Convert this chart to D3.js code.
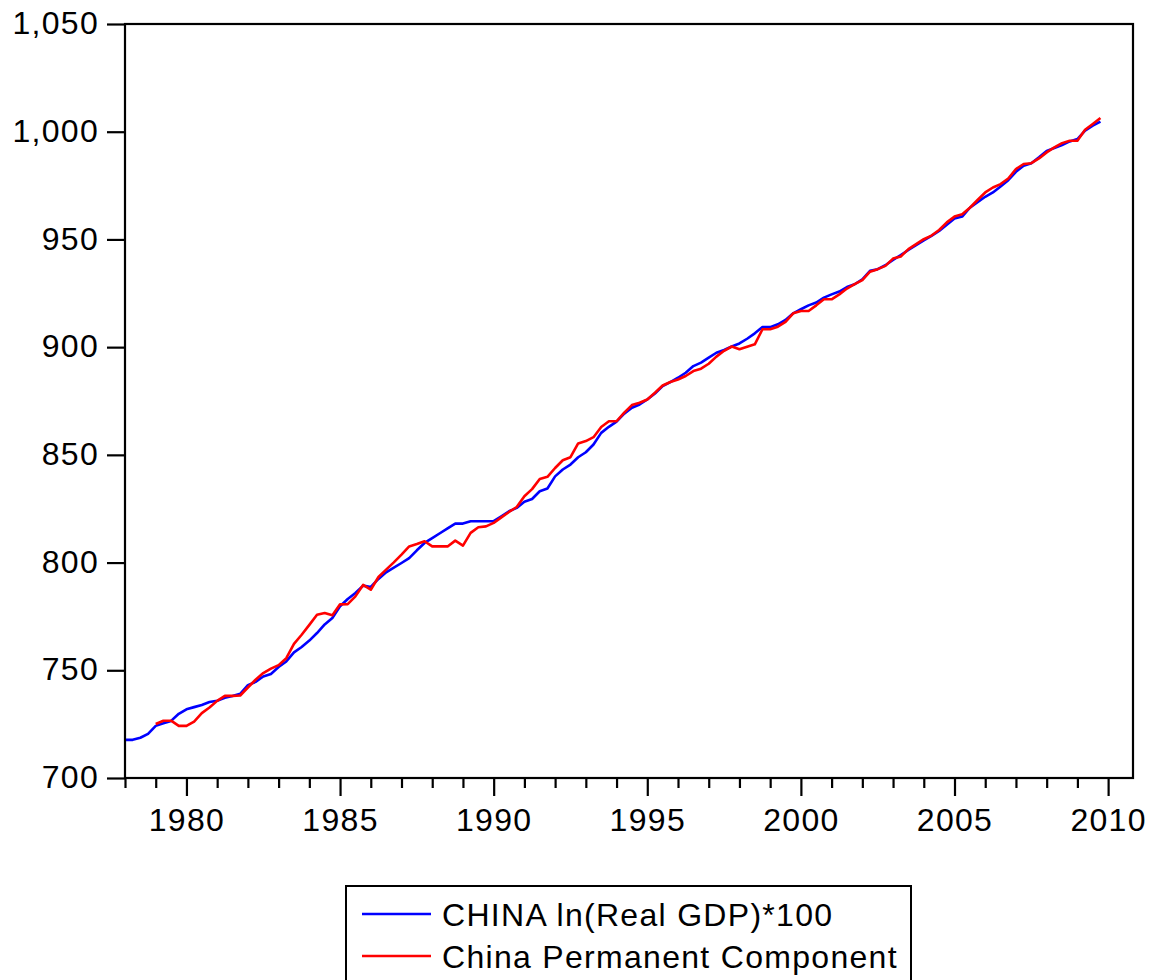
<!DOCTYPE html>
<html>
<head>
<meta charset="utf-8">
<script src="https://cdn.jsdelivr.net/npm/d3@7"></script>
<style>
  html, body { margin: 0; padding: 0; background: #fff; }
  svg { display: block; }
  text { font-family: "Liberation Sans", Arial, sans-serif; fill: #000; }
</style>
</head>
<body>
<svg id="chart" width="1151" height="980"></svg>
<script>
// ---- data (quarterly, 1978Q1 .. 2009Q4) ----
const startYear = 1978;
const periodsPerYear = 4;

const seriesNames = ["CHINA ln(Real GDP)*100", "China Permanent Component"];

const gdpValues = [
  717.7, 717.7, 718.7, 720.5, 724.2, 725.4, 726.5, 729.8,
  731.9, 732.9, 733.9, 735.3, 735.9, 737.2, 738.1, 739.1,
  743.1, 744.6, 747.1, 748.3, 751.5, 754.1, 758.3, 760.8,
  763.8, 767.3, 771.3, 774.3, 779.7, 783.1, 785.9, 789.3,
  788.7, 792.4, 795.5, 797.6, 799.8, 802.1, 805.7, 809.1,
  811.3, 813.6, 815.9, 818.1, 818.1, 819.2, 819.2, 819.2,
  819.2, 821.5, 823.8, 825.4, 828.2, 829.5, 833.1, 834.4,
  840.0, 843.2, 845.5, 848.9, 851.2, 854.8, 860.2, 863.0,
  865.4, 869.1, 871.9, 873.4, 875.7, 878.5, 881.9, 883.8,
  885.8, 888.1, 891.2, 892.8, 895.1, 897.4, 898.7, 900.3,
  901.7, 903.9, 906.4, 909.3, 909.3, 910.6, 912.6, 915.7,
  917.6, 919.4, 920.7, 923.0, 924.5, 925.8, 927.9, 929.2,
  931.5, 935.4, 936.2, 938.0, 940.5, 942.7, 945.1, 947.3,
  949.5, 951.6, 953.9, 956.8, 959.7, 960.6, 964.7, 967.3,
  969.8, 971.8, 974.6, 977.5, 981.4, 984.2, 985.4, 988.1,
  991.1, 992.4, 993.8, 995.5, 996.6, 1000.5, 1002.8, 1004.7
];

const permValues = [
  null, null, null, null, 725.1, 726.6, 726.6, 724.2,
  724.2, 726.2, 730.1, 732.7, 735.8, 738.1, 738.1, 738.3,
  742.0, 745.6, 748.7, 750.8, 752.4, 755.6, 762.3, 766.5,
  771.1, 775.8, 776.6, 775.5, 780.6, 780.7, 784.3, 789.6,
  787.4, 793.3, 796.7, 800.1, 803.7, 807.5, 808.6, 809.9,
  807.5, 807.5, 807.5, 810.2, 807.9, 813.8, 816.4, 816.8,
  818.4, 821.0, 823.5, 825.8, 830.8, 834.1, 838.8, 839.8,
  843.9, 847.5, 848.9, 855.3, 856.4, 858.2, 862.9, 865.6,
  865.6, 869.6, 873.1, 874.2, 875.7, 878.8, 882.2, 883.8,
  885.0, 886.6, 888.9, 890.0, 892.3, 895.6, 898.3, 900.3,
  899.0, 900.2, 901.3, 908.3, 908.3, 909.5, 911.7, 915.7,
  916.8, 916.8, 919.4, 922.2, 922.2, 924.5, 927.2, 929.2,
  931.1, 935.0, 936.2, 937.7, 941.1, 942.1, 945.5, 947.8,
  950.1, 951.8, 954.4, 957.9, 960.6, 961.7, 964.7, 968.3,
  971.8, 974.1, 975.7, 978.3, 982.7, 985.0, 985.4, 987.6,
  990.4, 992.7, 994.7, 995.8, 995.8, 1000.9, 1003.6, 1006.4
];

const xMajorTicks = [1980, 1985, 1990, 1995, 2000, 2005, 2010];
const xMinorTicks = [1978, 1979, 1981, 1982, 1983, 1984, 1986, 1987, 1988, 1989,
  1991, 1992, 1993, 1994, 1996, 1997, 1998, 1999, 2001, 2002, 2003, 2004,
  2006, 2007, 2008, 2009];
const yTicks = [700, 750, 800, 850, 900, 950, 1000, 1050];

const colors = ["#0000ff", "#ff0000"];

// ---- layout ----
const svg = d3.select("#chart");
const plot = { left: 125, right: 1133, top: 24, bottom: 778 };
const fontSize = 32;
const letterSpacing = "1.3px";

const x = d3.scaleLinear().domain([1978, 2010.81]).range([plot.left, plot.right]);
const y = d3.scaleLinear().domain([700, 1050]).range([plot.bottom, plot.top]);

const toPoints = vals => vals.map((v, i) => ({ t: startYear + i / periodsPerYear, v }));
const series = [toPoints(gdpValues), toPoints(permValues)];

// lines
const line = d3.line()
  .defined(d => d.v != null)
  .x(d => x(d.t))
  .y(d => y(d.v));

series.forEach((s, i) => {
  svg.append("path")
    .datum(s)
    .attr("fill", "none")
    .attr("stroke", colors[i])
    .attr("stroke-width", 2.6)
    .attr("stroke-linejoin", "round")
    .attr("d", line);
});

// frame
svg.append("rect")
  .attr("x", plot.left).attr("y", plot.top)
  .attr("width", plot.right - plot.left).attr("height", plot.bottom - plot.top)
  .attr("fill", "none").attr("stroke", "#000").attr("stroke-width", 2.2);

// y axis
const yAxis = d3.axisLeft(y)
  .tickValues(yTicks)
  .tickSize(18)
  .tickPadding(8)
  .tickFormat(d3.format(","));
const gy = svg.append("g").attr("transform", `translate(${plot.left},0)`).call(yAxis);
gy.select(".domain").remove();
gy.selectAll(".tick line").attr("stroke", "#000").attr("stroke-width", 2.2);
gy.selectAll(".tick text")
  .attr("font-size", fontSize)
  .attr("font-family", "Liberation Sans, Arial, sans-serif")
  .attr("letter-spacing", letterSpacing)
  .attr("dy", "0.3em");

// x axis: minor ticks
const gxMinor = svg.append("g").attr("transform", `translate(0,${plot.bottom})`)
  .call(d3.axisBottom(x).tickValues(xMinorTicks).tickSize(10).tickFormat(""));
gxMinor.select(".domain").remove();
gxMinor.selectAll(".tick line").attr("stroke", "#000").attr("stroke-width", 2.2);

// x axis: major ticks with labels
const gx = svg.append("g").attr("transform", `translate(0,${plot.bottom})`)
  .call(d3.axisBottom(x).tickValues(xMajorTicks).tickSize(18).tickPadding(12).tickFormat(d3.format("d")));
gx.select(".domain").remove();
gx.selectAll(".tick line").attr("stroke", "#000").attr("stroke-width", 2.2);
gx.selectAll(".tick text")
  .attr("font-size", fontSize)
  .attr("font-family", "Liberation Sans, Arial, sans-serif")
  .attr("letter-spacing", letterSpacing);

// legend
const legend = { left: 346, right: 911, top: 886, bottom: 990 };
svg.append("rect")
  .attr("x", legend.left).attr("y", legend.top)
  .attr("width", legend.right - legend.left).attr("height", legend.bottom - legend.top)
  .attr("fill", "#fff").attr("stroke", "#000").attr("stroke-width", 2);

const legendRows = [914, 956];
seriesNames.forEach((name, i) => {
  svg.append("line")
    .attr("x1", 362).attr("x2", 431)
    .attr("y1", legendRows[i]).attr("y2", legendRows[i])
    .attr("stroke", colors[i]).attr("stroke-width", 2.6);
  svg.append("text")
    .attr("x", 442).attr("y", legendRows[i] + 11.5)
    .attr("font-size", fontSize)
    .attr("letter-spacing", letterSpacing)
    .text(name);
});
</script>
</body>
</html>
